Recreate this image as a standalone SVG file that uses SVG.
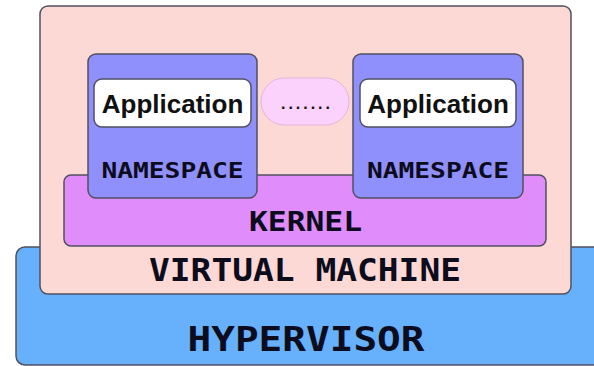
<svg xmlns="http://www.w3.org/2000/svg" width="594" height="366" viewBox="0 0 594 366">
<style>
.box{stroke:#505060;stroke-width:1.5}
.mono{font-family:"DejaVu Sans Mono","Liberation Mono",monospace;font-weight:bold;fill:#0c0c1c;text-anchor:middle}
.sans{font-family:"Liberation Sans",Arial,sans-serif;font-weight:bold;fill:#111;text-anchor:middle}
</style>
<rect width="594" height="366" fill="#ffffff"/>
<g id="hypervisor">
<rect class="box" x="16" y="247" width="590" height="118" rx="9" fill="#66b0fc"/>
<text class="mono" x="306" y="351" font-size="34" textLength="237" lengthAdjust="spacingAndGlyphs">HYPERVISOR</text>
</g>
<g id="virtual-machine">
<rect class="box" x="40" y="6" width="531" height="288" rx="8" fill="#fdd9d6"/>
<text class="mono" x="305" y="281" font-size="32" textLength="312" lengthAdjust="spacingAndGlyphs">VIRTUAL MACHINE</text>
</g>
<g id="kernel">
<rect class="box" x="64" y="175" width="482" height="71" rx="7" fill="#e08cfa"/>
<text class="mono" x="305.5" y="231" font-size="27" textLength="113" lengthAdjust="spacingAndGlyphs">KERNEL</text>
</g>
<g id="namespace-1">
<rect class="box" x="88" y="54" width="169" height="144" rx="8" fill="#9090fc"/>
<text class="mono" x="172.5" y="178" font-size="22" textLength="142" lengthAdjust="spacingAndGlyphs">NAMESPACE</text>
</g>
<g id="application-1">
<rect class="box" x="94" y="79" width="157" height="48" rx="8" fill="#ffffff"/>
<text class="sans" x="172.5" y="113" font-size="26">Application</text>
</g>
<g id="namespace-2">
<rect class="box" x="353" y="54" width="170" height="144" rx="8" fill="#9090fc"/>
<text class="mono" x="438" y="178" font-size="22" textLength="142" lengthAdjust="spacingAndGlyphs">NAMESPACE</text>
</g>
<g id="application-2">
<rect class="box" x="360" y="79" width="156" height="48" rx="8" fill="#ffffff"/>
<text class="sans" x="438" y="113" font-size="26">Application</text>
</g>
<g id="ellipsis">
<rect x="261" y="78" width="88" height="47" rx="23.5" fill="#fbd2fb" stroke="#e6b4dc" stroke-width="1"/>
<text class="sans" x="305.5" y="109" font-size="16" textLength="49" lengthAdjust="spacing" fill="#222">.......</text>
</g>
<g id="connectors"></g>
</svg>
